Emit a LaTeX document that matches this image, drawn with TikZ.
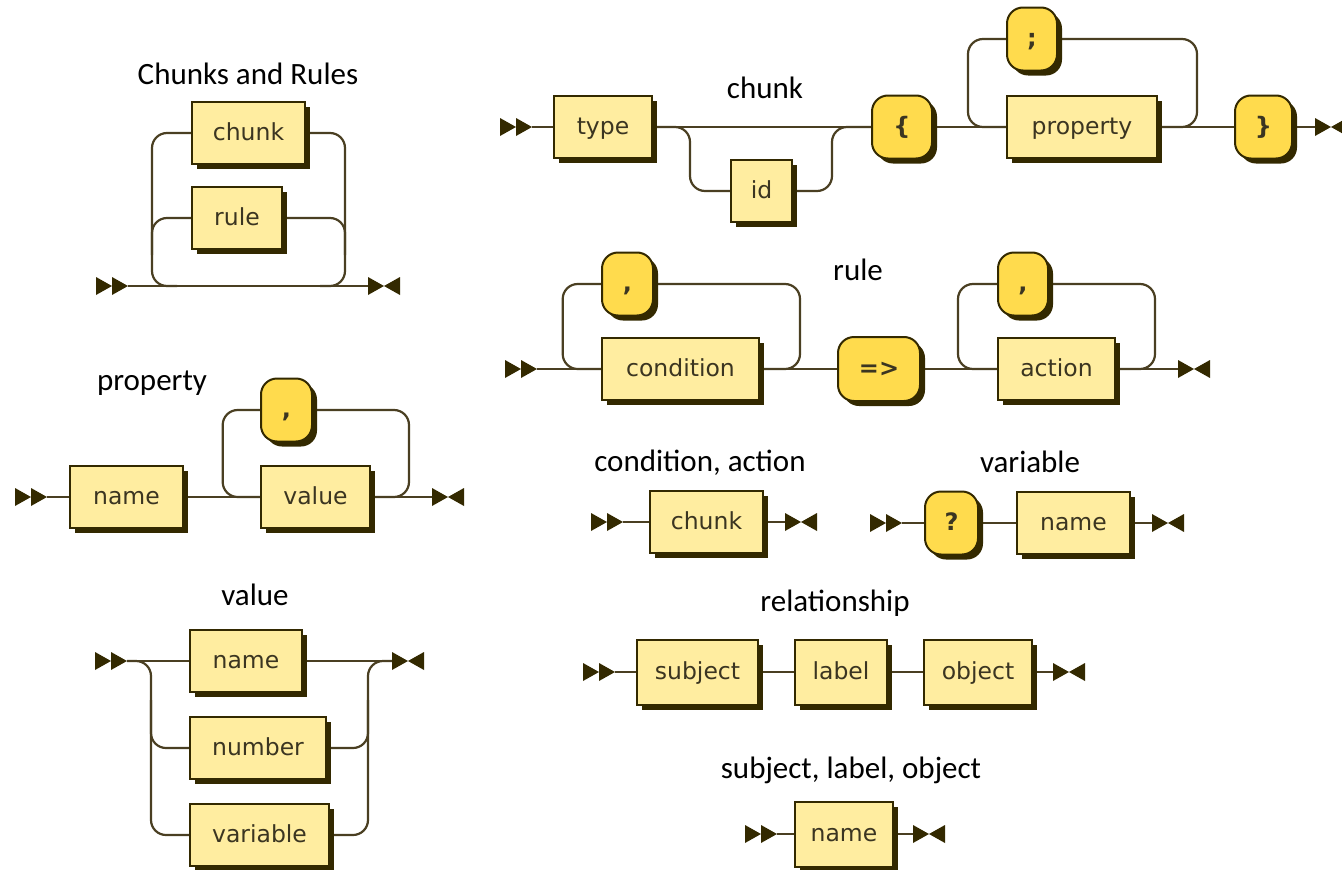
\documentclass[tikz,border=0pt]{standalone}
\usepackage{fontspec}
\setmainfont{Carlito}
\newfontfamily\railfont{DejaVu Sans}
\definecolor{ink}{HTML}{332900}
\definecolor{railc}{HTML}{4A3F22}
\definecolor{ntfill}{HTML}{FFEDA0}
\definecolor{tfill}{HTML}{FFDB4D}
\definecolor{txt}{HTML}{3B3521}
\pgfdeclarelayer{bg}
\pgfsetlayers{bg,main}
\tikzset{
  boxbase/.style={draw=ink, line width=2pt, inner sep=0pt, text=txt,
    text height=17pt, text depth=2pt,
    preaction={fill=ink, transform canvas={shift={(5pt,-5pt)}}}},
  ntbox/.style={boxbase, fill=ntfill, minimum height=62pt,
    font=\railfont\fontsize{23.5}{28}\selectfont},
  tbox/.style={boxbase, fill=tfill, rounded corners=16pt, minimum height=63pt,
    font=\railfont\bfseries\fontsize{24}{28}\selectfont},
  rail/.style={draw=railc, line width=2.2pt},
  railbend/.style={rail, rounded corners=15pt},
  title/.style={font=\fontsize{31}{36}\selectfont, text=black, inner sep=0pt},
  startmk/.pic={\fill[ink] (-32,-9) -- (-16,0) -- (-32,9) -- cycle
                           (-16,-9) -- (0,0) -- (-16,9) -- cycle;},
  endmk/.pic={\fill[ink] (0,-9) -- (16,0) -- (0,9) -- cycle
                         (32,-9) -- (16,0) -- (32,9) -- cycle;},
}
\begin{document}
\begin{tikzpicture}[x=1pt, y=-1pt]
\useasboundingbox (0,0) rectangle (1342,870);

% ---------- Chunks and Rules ----------
\node[title] (tcr) at (248,74) {Chunks and Rules};
\node[ntbox, minimum width=113pt] (crchunk) at (248.5,133) {chunk};
\node[ntbox, minimum width=90pt] (crrule) at (237,218) {rule};
\coordinate (crs) at (128,286);
\coordinate (cre) at (368,286);
\coordinate (crl) at (152,286);
\coordinate (crr) at (345,286);
\coordinate (crlm) at (152,255);
\coordinate (crrm) at (345,255);
\pic at (crs) {startmk};
\pic at (cre) {endmk};
\begin{pgfonlayer}{bg}
\draw[rail] (crs) -- (cre);
\draw[railbend] (crchunk.west) -| (crl) -- ++(25,0);
\draw[railbend] (crlm) |- (crrule.west);
\draw[railbend] (crchunk.east) -| (crr) -- ++(-25,0);
\draw[railbend] (crrule.east) -| (crrm);
\end{pgfonlayer}

% ---------- chunk ----------
\node[title] (tchunk) at (765,88) {chunk};
\node[ntbox, minimum width=98pt] (type) at (603,127) {type};
\node[ntbox, minimum width=61pt] (id) at (761.5,191) {id};
\node[tbox, minimum width=60pt] (lb) at (902,127) {\{};
\node[tbox, minimum width=50pt] (semi) at (1032,39) {;};
\node[ntbox, minimum width=150pt] (prop) at (1082,127) {property};
\node[tbox, minimum width=57pt] (rb) at (1263.5,127) {\}};
\coordinate (cs) at (532,127);
\coordinate (ce) at (1315,127);
\coordinate (idl) at (690,191);
\coordinate (idr) at (832,127);
\coordinate (sml) at (968,127);
\coordinate (smr) at (1197,39);
\pic at (cs) {startmk};
\pic at (ce) {endmk};
\begin{pgfonlayer}{bg}
\draw[rail] (cs) -- (type.west);
\draw[rail] (type.east) -- (lb.west);
\draw[railbend] (type.east) -| (idl) -- (id.west);
\draw[railbend] (id.east) -| (idr) -- (lb.west);
\draw[rail] (lb.east) -- (prop.west);
\draw[railbend] (semi.west) -| (sml) -- (prop.west);
\draw[railbend] (prop.east) -| (smr) -- (semi.east);
\draw[rail] (prop.east) -- (rb.west);
\draw[rail] (rb.east) -- (ce);
\end{pgfonlayer}

% ---------- rule ----------
\node[title] (trule) at (858,270) {rule};
\node[tbox, minimum width=51pt] (rc1) at (627.5,284) {,};
\node[ntbox, minimum width=157pt] (cond) at (680.5,369) {condition};
\node[tbox, minimum width=82pt, minimum height=64pt] (imp) at (879,369) {=>};
\node[tbox, minimum width=50pt] (rc2) at (1023,284) {,};
\node[ntbox, minimum width=117pt] (act) at (1056.5,369) {action};
\coordinate (rs) at (537,369);
\coordinate (re) at (1178,369);
\coordinate (r1l) at (562.7,369);
\coordinate (r1r) at (800,284);
\coordinate (r2l) at (958,369);
\coordinate (r2r) at (1155,284);
\pic at (rs) {startmk};
\pic at (re) {endmk};
\begin{pgfonlayer}{bg}
\draw[rail] (rs) -- (cond.west);
\draw[railbend] (rc1.west) -| (r1l) -- (cond.west);
\draw[railbend] (cond.east) -| (r1r) -- (rc1.east);
\draw[rail] (cond.east) -- (imp.west);
\draw[rail] (imp.east) -- (act.west);
\draw[railbend] (rc2.west) -| (r2l) -- (act.west);
\draw[railbend] (act.east) -| (r2r) -- (rc2.east);
\draw[rail] (act.east) -- (re);
\end{pgfonlayer}

% ---------- property ----------
\node[title] (tprop) at (152,383) {property};
\node[ntbox, minimum width=113pt] (pname) at (126.5,497) {name};
\node[tbox, minimum width=51pt] (pc) at (286.5,410) {,};
\node[ntbox, minimum width=109pt] (pval) at (315.5,497) {value};
\coordinate (ps) at (47,497);
\coordinate (pe) at (432,497);
\coordinate (pl) at (222.7,497);
\coordinate (pr) at (409,410);
\pic at (ps) {startmk};
\pic at (pe) {endmk};
\begin{pgfonlayer}{bg}
\draw[rail] (ps) -- (pname.west);
\draw[rail] (pname.east) -- (pval.west);
\draw[railbend] (pc.west) -| (pl) -- (pval.west);
\draw[railbend] (pval.east) -| (pr) -- (pc.east);
\draw[rail] (pval.east) -- (pe);
\end{pgfonlayer}

% ---------- value ----------
\node[title] (tval) at (255,595) {value};
\node[ntbox, minimum width=112pt] (vname) at (246,661) {name};
\node[ntbox, minimum width=136pt] (vnum) at (258,748) {number};
\node[ntbox, minimum width=139pt] (vvar) at (259.5,835) {variable};
\coordinate (vs) at (127,661);
\coordinate (ve) at (392,661);
\coordinate (vl) at (151,835);
\coordinate (vlm) at (151,700);
\coordinate (vr) at (368,661);
\coordinate (vrm) at (368,700);
\pic at (vs) {startmk};
\pic at (ve) {endmk};
\begin{pgfonlayer}{bg}
\draw[rail] (vs) -- (vname.west);
\draw[rail] (vname.east) -- (ve);
\draw[railbend] (vs) -| (vl) -- (vvar.west);
\draw[railbend] (vlm) |- (vnum.west);
\draw[railbend] (vvar.east) -| (vr) -- (ve);
\draw[railbend] (vnum.east) -| (vrm);
\end{pgfonlayer}

% ---------- condition, action ----------
\node[title] (tca) at (700,463) {condition, action};
\node[ntbox, minimum width=113pt] (cachunk) at (706.5,522) {chunk};
\coordinate (cas) at (623,522);
\coordinate (cae) at (785,522);
\pic at (cas) {startmk};
\pic at (cae) {endmk};
\begin{pgfonlayer}{bg}
\draw[rail] (cas) -- (cachunk.west);
\draw[rail] (cachunk.east) -- (cae);
\end{pgfonlayer}

% ---------- variable ----------
\node[title] (tvar) at (1030,462) {variable};
\node[tbox, minimum width=53pt] (q) at (951.5,523) {?};
\node[ntbox, minimum width=113pt] (vrname) at (1073.5,523) {name};
\coordinate (vrs) at (902,523);
\coordinate (vre) at (1152,523);
\pic at (vrs) {startmk};
\pic at (vre) {endmk};
\begin{pgfonlayer}{bg}
\draw[rail] (vrs) -- (q.west);
\draw[rail] (q.east) -- (vrname.west);
\draw[rail] (vrname.east) -- (vre);
\end{pgfonlayer}

% ---------- relationship ----------
\node[title] (trel) at (835,603) {relationship};
\node[ntbox, minimum width=121pt, minimum height=65pt] (subj) at (697.5,672) {subject};
\node[ntbox, minimum width=92pt, minimum height=65pt] (lab) at (841,672) {label};
\node[ntbox, minimum width=108pt, minimum height=65pt] (obj) at (978,672) {object};
\coordinate (rls) at (615,672);
\coordinate (rle) at (1053,672);
\pic at (rls) {startmk};
\pic at (rle) {endmk};
\begin{pgfonlayer}{bg}
\draw[rail] (rls) -- (subj.west);
\draw[rail] (subj.east) -- (lab.west);
\draw[rail] (lab.east) -- (obj.west);
\draw[rail] (obj.east) -- (rle);
\end{pgfonlayer}

% ---------- subject, label, object ----------
\node[title] (tslo) at (851,770) {subject, label, object};
\node[ntbox, minimum width=98pt, minimum height=65pt] (slname) at (844,834) {name};
\coordinate (sls) at (777,834);
\coordinate (sle) at (913,834);
\pic at (sls) {startmk};
\pic at (sle) {endmk};
\begin{pgfonlayer}{bg}
\draw[rail] (sls) -- (slname.west);
\draw[rail] (slname.east) -- (sle);
\end{pgfonlayer}
\end{tikzpicture}
\end{document}
